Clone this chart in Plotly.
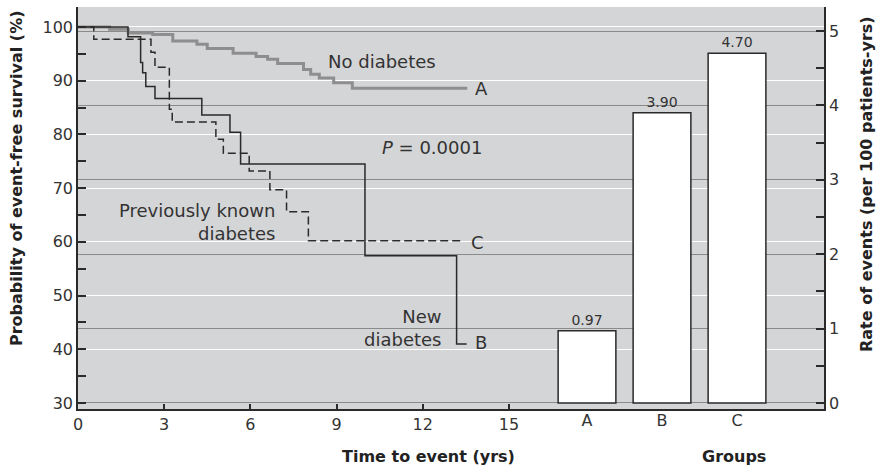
import plotly.graph_objects as go

# Kaplan-Meier curves (time in years, event-free survival %)
t_nodiab = [0, 1.1, 1.75, 2.6, 3.3, 4.14, 4.5, 5.4, 6.2, 6.6, 6.95, 7.85, 8.1, 8.4, 8.9, 9.55, 13.55]
s_nodiab = [100, 99.6, 98.9, 98.6, 97.4, 96.8, 96.0, 95.1, 94.5, 94.0, 93.2, 92.1, 91.2, 90.5, 89.6, 88.6, 88.6]

t_new = [0, 1.74, 2.18, 2.25, 2.36, 2.68, 4.31, 5.29, 5.66, 9.99, 13.18, 13.53]
s_new = [100, 98.2, 93.4, 91.5, 88.9, 86.7, 83.6, 80.4, 74.5, 57.4, 41.0, 41.0]

t_known = [0, 0.55, 2.54, 2.68, 3.18, 3.28, 4.80, 5.06, 5.96, 6.68, 7.26, 8.02, 13.40]
s_known = [100, 97.7, 95.3, 92.5, 84.7, 82.3, 79.1, 76.5, 73.2, 69.7, 65.6, 60.2, 60.2]

# Event rates per group
groups = ["A", "B", "C"]
rates = [0.97, 3.90, 4.70]
rate_labels = ["0.97", "3.90", "4.70"]

time_ticks = [0, 3, 6, 9, 12, 15]

FONT = "DejaVu Sans"
DARK = "#2a2a2a"
L, R, T, B = 78, 58, 7, 59
PW, PH = 882 - L - R, 468 - T - B

def px(x):
    return (x - L) / PW

def py(y):
    return (468 - B - y) / PH

fig = go.Figure()

fig.add_trace(go.Scatter(x=t_nodiab, y=s_nodiab, mode="lines", line_shape="hv",
                         line=dict(color="#8e8e8e", width=3), xaxis="x", yaxis="y"))
fig.add_trace(go.Scatter(x=t_known, y=s_known, mode="lines", line_shape="hv",
                         line=dict(color=DARK, width=1.5, dash="8px,4px"), xaxis="x", yaxis="y"))
fig.add_trace(go.Scatter(x=t_new, y=s_new, mode="lines", line_shape="hv",
                         line=dict(color=DARK, width=1.5), xaxis="x", yaxis="y"))

fig.add_trace(go.Bar(x=groups, y=rates, text=rate_labels, textposition="outside",
                     textfont=dict(family=FONT, size=14, color="#333"),
                     marker=dict(color="white", line=dict(color=DARK, width=1.5)),
                     width=0.77, cliponaxis=False, xaxis="x2", yaxis="y2"))

TICKF = dict(family=FONT, size=16, color="#333")

fig.update_layout(
    width=882, height=468,
    margin=dict(l=L, r=R, t=T, b=B),
    paper_bgcolor="white", plot_bgcolor="#d4d5d7",
    showlegend=False,
    font=dict(family=FONT, size=15, color="#333"),
    xaxis=dict(range=[0, 25.97], tickvals=time_ticks, ticktext=[str(v) for v in time_ticks],
               ticks="inside", ticklen=5, tickcolor=DARK, tickwidth=1.5,
               showline=True, linecolor=DARK, linewidth=1.5, showgrid=False, zeroline=False,
               tickfont=TICKF, automargin=False),
    xaxis2=dict(overlaying="x", anchor="y", side="bottom", type="category",
                range=[-6.787, 3.16], ticks="", showline=False, showgrid=False, zeroline=False,
                tickfont=TICKF, automargin=False),
    yaxis=dict(range=[28.88, 103.72], dtick=10, tick0=0, ticks="inside", ticklen=8,
               tickcolor=DARK, tickwidth=1.5, showline=True, linecolor=DARK, linewidth=1.5,
               showgrid=True, gridcolor="white", gridwidth=1.3, zeroline=False,
               minor=dict(dtick=5, tick0=0, ticks="inside", ticklen=8, tickcolor=DARK, showgrid=False),
               tickfont=TICKF, automargin=False),
    yaxis2=dict(overlaying="y", side="right", anchor="x", range=[-0.081, 5.323], dtick=1, tick0=0,
                ticks="inside", ticklen=8, tickcolor=DARK, tickwidth=1.5, showline=True,
                linecolor=DARK, linewidth=1.5, showgrid=True, gridcolor="#8a8a8a", gridwidth=1.4,
                zeroline=False,
                minor=dict(dtick=0.5, tick0=0, ticks="inside", ticklen=8, tickcolor=DARK, showgrid=False),
                tickfont=TICKF, automargin=False),
)

def ann(text, x, y, xanchor="center", size=18, align="center", xref="x", yref="y"):
    fig.add_annotation(text=text, x=x, y=y, xref=xref, yref=yref, showarrow=False,
                       xanchor=xanchor, yanchor="middle", align=align,
                       font=dict(family=FONT, size=size, color="#333"))

ann("No diabetes", 10.58, 93.5)
ann("A", 13.75, 88.6, xanchor="left")
ann("<i>P</i> = 0.0001", 10.5, 77.5, xanchor="left")
ann("Previously known<br>diabetes", 6.93, 63.7, xanchor="right", align="right")
ann("C", 13.62, 59.8, xanchor="left")
ann("New<br>diabetes", 12.70, 43.9, xanchor="right", align="right")
ann("B", 13.75, 41.2, xanchor="left")

bold = dict(family=FONT, size=16, color="#222")
fig.add_annotation(text="<b>Time to event (yrs)</b>", x=px(428), y=py(457), xref="paper", yref="paper",
                   showarrow=False, xanchor="center", yanchor="middle", font=bold)
fig.add_annotation(text="<b>Groups</b>", x=px(734), y=py(457), xref="paper", yref="paper",
                   showarrow=False, xanchor="center", yanchor="middle", font=bold)
fig.add_annotation(text="<b>Probability of event-free survival (%)</b>", x=px(16), y=py(178),
                   xref="paper", yref="paper", showarrow=False, textangle=-90,
                   xanchor="center", yanchor="middle", font=bold)
fig.add_annotation(text="<b>Rate of events (per 100 patients-yrs)</b>", x=px(866), y=py(184),
                   xref="paper", yref="paper", showarrow=False, textangle=-90,
                   xanchor="center", yanchor="middle", font=bold)

fig.write_html("out.html", config={"displayModeBar": False},
               post_script="document.body.style.margin='0';")
